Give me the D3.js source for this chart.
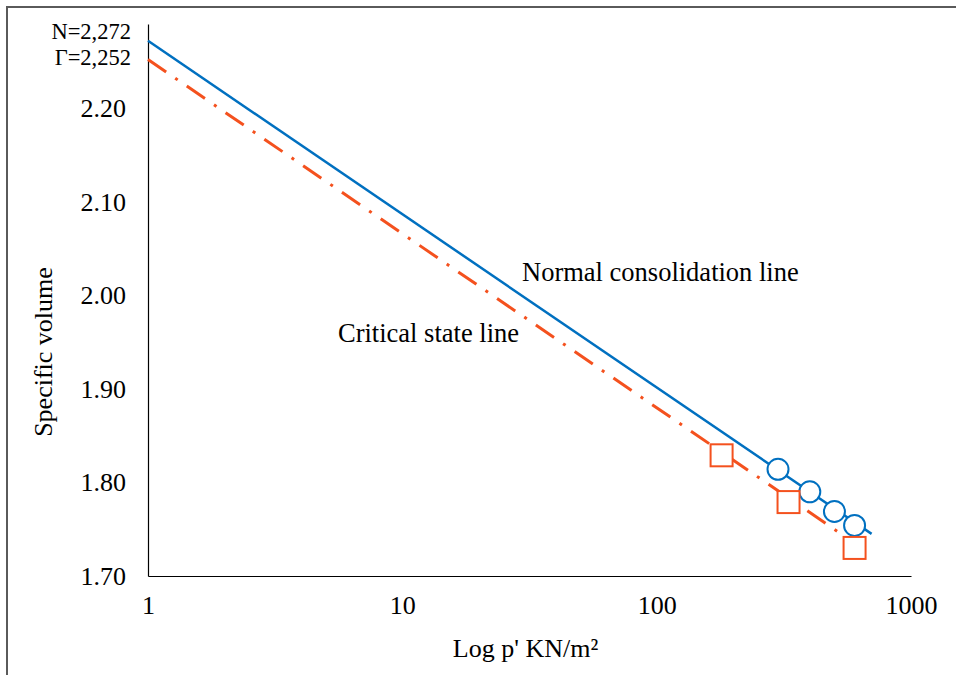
<!DOCTYPE html>
<html>
<head>
<meta charset="utf-8">
<script src="https://cdn.jsdelivr.net/npm/d3@7"></script>
<style>
  html, body { margin: 0; padding: 0; background: #fff; }
  svg { display: block; font-family: "Liberation Serif", "Times New Roman", serif; }
</style>
</head>
<body>
<div id="chart"></div>
<script>
// Data
const xTicks = [1, 10, 100, 1000];
const yTicks = [1.70, 1.80, 1.90, 2.00, 2.10, 2.20];

// normal consolidation line and critical state line (end points)
const nclLine = [[1, 2.272], [700, 1.745]];
const cslLine = [[1, 2.252], [680, 1.725]];

// test points
const nclPoints = [[300, 1.814], [400, 1.790], [500, 1.769], [600, 1.754]];
const cslPoints = [[180, 1.829], [330, 1.779], [600, 1.730]];

const interceptLabels = [
    { text: "N=2,272", value: 2.272, dy: -2 },
    { text: "\u0393=2,252", value: 2.252, dy: 5 }
];

function buildChart() {
    const W = 956, H = 675;
    const margin = { top: 24, right: 45, bottom: 99, left: 148 },
        width = W - margin.left - margin.right,
        height = H - margin.top - margin.bottom;

    const blue = "#0070C0";
    const red = "#F4511E";

    const root = d3.select("#chart")
        .append("svg")
        .attr("width", W)
        .attr("height", H);

    // outer frame
    root.append("rect")
        .attr("x", 7)
        .attr("y", 7)
        .attr("width", W + 20)
        .attr("height", H + 20)
        .attr("fill", "none")
        .attr("stroke", "#5a5a5a")
        .attr("stroke-width", 2);

    const svg = root.append("g")
        .attr("transform", `translate(${margin.left},${margin.top})`);

    const x = d3.scaleLog()
        .domain([1, 1000])
        .range([0, width]);

    const y = d3.scaleLinear()
        .domain([1.70, 2.29])
        .range([height, 0]);

    // Axes
    const yAxis = svg.append("g")
        .call(d3.axisLeft(y)
            .tickValues(yTicks)
            .tickSize(0)
            .tickPadding(22)
            .tickFormat(d3.format(".2f")));

    const xAxis = svg.append("g")
        .attr("transform", `translate(0, ${height})`)
        .call(d3.axisBottom(x)
            .tickValues(xTicks)
            .tickSize(0)
            .tickPadding(20)
            .tickFormat(d3.format("d")));

    [yAxis, xAxis].forEach(a => {
        a.select(".domain").attr("stroke", "#000").attr("stroke-width", 1.2);
        a.selectAll("text")
            .style("font-family", "'Liberation Serif', 'Times New Roman', serif")
            .style("font-size", "26px")
            .style("fill", "#000");
    });

    // intercept labels
    svg.selectAll(".intercept")
        .data(interceptLabels)
        .join("text")
        .attr("class", "intercept")
        .attr("x", -17)
        .attr("y", d => y(d.value) + d.dy)
        .attr("text-anchor", "end")
        .style("font-size", "22.5px")
        .style("fill", "#000")
        .text(d => d.text);

    // Lines
    const line = d3.line()
        .x(p => x(p[0]))
        .y(p => y(p[1]));

    svg.append("path")
        .attr("d", line(nclLine))
        .attr("fill", "none")
        .attr("stroke", blue)
        .attr("stroke-width", 2.5);

    svg.append("path")
        .attr("d", line(cslLine))
        .attr("fill", "none")
        .attr("stroke", red)
        .attr("stroke-width", 3)
        .attr("stroke-dasharray", "22,11,3,11");

    // Markers
    svg.selectAll(".ncl-point")
        .data(nclPoints)
        .join("circle")
        .attr("class", "ncl-point")
        .attr("cx", d => x(d[0]))
        .attr("cy", d => y(d[1]))
        .attr("r", 10.5)
        .attr("fill", "#fff")
        .attr("stroke", blue)
        .attr("stroke-width", 2);

    const sq = 22;
    svg.selectAll(".csl-point")
        .data(cslPoints)
        .join("rect")
        .attr("class", "csl-point")
        .attr("x", d => x(d[0]) - sq / 2)
        .attr("y", d => y(d[1]) - sq / 2)
        .attr("width", sq)
        .attr("height", sq)
        .attr("fill", "#fff")
        .attr("stroke", red)
        .attr("stroke-width", 2);

    // Annotations
    svg.append("text")
        .attr("x", 522 - margin.left)
        .attr("y", 281 - margin.top)
        .style("font-size", "26.5px")
        .style("fill", "#000")
        .text("Normal consolidation line");

    svg.append("text")
        .attr("x", 338 - margin.left)
        .attr("y", 342 - margin.top)
        .style("font-size", "26.5px")
        .style("fill", "#000")
        .text("Critical state line");

    // Axis titles
    svg.append("text")
        .attr("text-anchor", "middle")
        .attr("x", width / 2 - 4)
        .attr("y", height + 81)
        .style("font-size", "26px")
        .style("fill", "#000")
        .text("Log p' KN/m\u00B2");

    svg.append("text")
        .attr("text-anchor", "middle")
        .attr("transform", "rotate(-90)")
        .attr("x", -(352 - margin.top))
        .attr("y", 52 - margin.left)
        .style("font-size", "26px")
        .style("fill", "#000")
        .text("Specific volume");
}

buildChart();
</script>
</body>
</html>
